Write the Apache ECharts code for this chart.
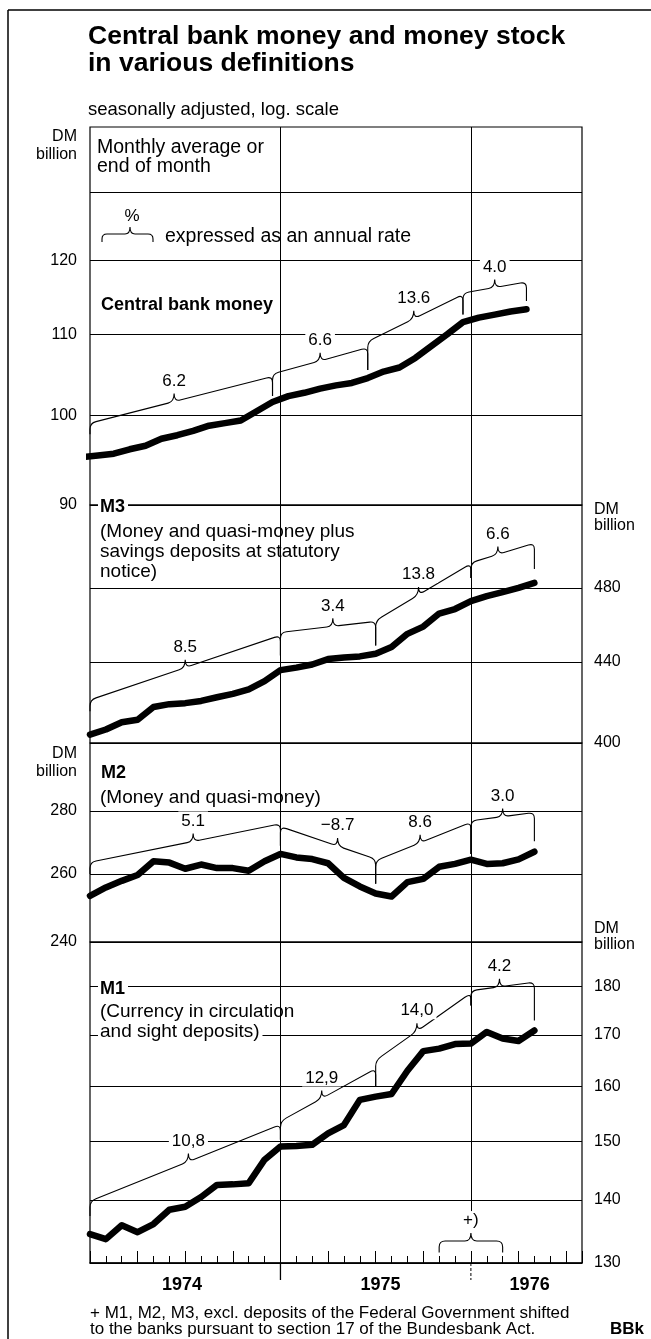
<!DOCTYPE html>
<html>
<head>
<meta charset="utf-8">
<title>Central bank money and money stock in various definitions</title>
<script src="https://cdn.jsdelivr.net/npm/echarts@6/dist/echarts.min.js"></script>
<style>
html,body{margin:0;padding:0;background:#fff;}
#chart{width:651px;height:1339px;}
</style>
</head>
<body>
<div id="chart"></div>
<script>
// ---------------- data ----------------
// month index: 0 = January 1974, 12 = January 1975, 24 = January 1976
const monthIdx = [0,1,2,3,4,5,6,7,8,9,10,11,12,13,14,15,16,17,18,19,20,21,22,23,24,25,26,27,28];
// central bank money = monthly averages, plotted mid-month
const cbmMonthIdx = [-0.5,0.5,1.5,2.5,3.5,4.5,5.5,6.5,7.5,8.5,9.5,10.5,11.5,12.5,13.5,14.5,15.5,16.5,17.5,18.5,19.5,20.5,21.5,22.5,23.5,24.5,25.5,26.5,27.5];
const cbmValues = [95.2,95.4,95.6,96.1,96.5,97.3,97.7,98.2,98.8,99.1,99.4,100.5,101.6,102.3,102.7,103.2,103.6,103.9,104.5,105.3,105.8,107.0,108.5,110.0,111.6,112.2,112.6,113.0,113.3];
const m3Values = [404.0,406.4,409.9,411.1,417.3,418.7,419.2,420.3,422.1,423.8,426.1,430.2,435.8,437.1,438.7,441.5,442.3,442.9,444.3,447.8,454.8,458.7,465.8,468.3,472.7,475.5,477.7,480.1,482.9];
const m2Values = [253.4,255.9,257.9,259.7,263.9,263.5,261.6,262.9,261.8,261.8,261.0,263.9,266.2,265.1,264.6,263.3,258.8,256.2,254.1,253.2,257.5,258.5,262.2,263.1,264.4,263.1,263.3,264.5,266.9];
const m1Values = [134.5,133.7,135.9,134.8,136.1,138.4,138.9,140.5,142.5,142.6,142.8,146.8,149.1,149.2,149.4,151.4,152.9,157.5,158.1,158.6,163.0,166.8,167.3,168.2,168.3,170.6,169.3,168.8,170.9];

// axis tick values (DM billion)
const cbmTicks = [90,100,110,120];
const cbmUnlabelledLines = [130];
const m3Ticks = [400,440,480];
const m2Ticks = [240,260,280];
const m1Ticks = [130,140,150,160,170,180];
const yearLabels = ['1974','1975','1976'];
const yearLabelPos = [5.8, 18.3, 27.7];
const yearBoundaries = [12, 24];

// growth braces: [start month, end month, value at start, value at end,
//                 hook bottom at start, hook bottom at end, month of the brace tip]
const cbmBraces = [[0,11.5,99.1,104.7,97.8,102.3,5.3],[11.5,17.5,105.0,108.3,102.3,105.5,14.5],[17.5,23.5,109.1,115.3,105.5,112.6,20.4],[23.5,27.5,115.5,117.0,112.6,114.4,25.5]];
const cbmRates = ['6.2','6.6','13.6','4.0'];
const m3Braces = [[0,12,420.8,454.0,415.2,443.4,6.0],[12,18,455.6,461.5,443.4,448.6,15.3],[18,24,462.0,494.0,448.6,485.7,20.7],[24,28,494.5,506.0,485.7,490.8,25.7]];
const m3Rates = ['8.5','3.4','13.8','6.6'];
const m2Braces = [[0,12,263.6,275.8,260.0,268.8,6.5],[12,18,274.9,264.6,268.8,257.0,15.6],[18,24,264.1,276.3,257.0,266.2,20.8],[24,28,276.8,279.5,266.2,270.2,26.0]];
const m2Rates = ['5.1','\u22128.7','8.6','3.0'];
const m1Braces = [[0,12,139.8,153.0,137.4,150.3,6.2],[12,18,153.6,163.4,150.3,159.9,14.6],[18,24,165.0,178.6,159.9,176.0,20.6],[24,28,179.1,180.9,176.0,172.9,25.8]];
const m1Rates = ['10,8','12,9','14,0','4.2'];
// footnote marker brace under January 1976
const noteBrace = [[22,26,133.4,133.4,131.6,131.6,24]];
const noteLabels = ['+)'];
const noteLineFrom = 137.6; // value where the Jan-1976 line stops above "+)"

// ---------------- layout ----------------
const FONT = '"Liberation Sans", Arial, Helvetica, sans-serif';
const PX_PER_LN = 850;           // common log scale for all four panels
const LEFT = 90, RIGHT_EDGE = 582;
const panels = [
  {top:127, bottom:505, min:90},
  {top:505, bottom:743, min:400},
  {top:743, bottom:942, min:240},
  {top:942, bottom:1263, min:130}
];
panels.forEach(p => { p.max = p.min * Math.exp((p.bottom - p.top) / PX_PER_LN); });
const X_MAX = 31;

const chart = echarts.init(document.getElementById('chart'), null, {renderer:'canvas'});

function pairs(xs, ys){ return xs.map((x,i)=>[x, ys[i]]); }

function bracePathData(x0,y0,x1,y1,yb0,yb1,xm,r,B){
  const L = x => y0 + (y1-y0)*(x-x0)/(x1-x0);
  const ym = L(xm);
  return `M${x0} ${yb0} L${x0} ${y0+r} Q${x0} ${y0} ${x0+r} ${L(x0+r)} L${xm-r} ${L(xm-r)} Q${xm} ${ym} ${xm} ${ym-B} Q${xm} ${ym} ${xm+r} ${L(xm+r)} L${x1-r} ${L(x1-r)} Q${x1} ${y1} ${x1} ${y1+r} L${x1} ${yb1}`;
}

function braceRenderer(labels){
  return function(params, api){
    const x0 = api.value(0), x1 = api.value(1);
    const p0 = api.coord([x0, api.value(2)]);
    const p1 = api.coord([x1, api.value(3)]);
    const b0 = api.coord([x0, api.value(4)]);
    const b1 = api.coord([x1, api.value(5)]);
    const xm = api.coord([api.value(6), api.value(2)])[0];
    const r = 6, B = 8;
    const d = bracePathData(p0[0],p0[1],p1[0],p1[1],b0[1],b1[1],xm,r,B);
    const ym = p0[1] + (p1[1]-p0[1])*(xm-p0[0])/(p1[0]-p0[0]);
    return {type:'group', children:[
      {type:'path', shape:{pathData:d}, style:{stroke:'#000', fill:'none', lineWidth:1.1}},
      {type:'text', x:xm, y:ym-B-4, style:{text:labels[params.dataIndex], font:'17px '+FONT, fill:'#000',
        align:'center', verticalAlign:'bottom', textAlign:'center', textVerticalAlign:'bottom',
        backgroundColor:'#fff', padding:[1,3,0,3]}}
    ]};
  };
}

function gridLines(ticks, extra){
  const items = ticks.map(v => ({yAxis:v, name:String(v)}));
  (extra||[]).forEach(v => items.push({yAxis:v, name:'', label:{show:false}}));
  return items;
}

function markLineOpt(items, side){
  return {
    silent:true, symbol:'none', animation:false,
    lineStyle:{color:'#000', width:1, type:'solid'},
    label:{show:true, position: side==='left'?'start':'end', distance: side==='left'?13:12, formatter:'{b}',
      color:'#000', fontFamily:FONT, fontSize:16},
    emphasis:{disabled:true},
    data: items
  };
}

const vertLines = yearBoundaries.map(x => ({xAxis:x, name:'', label:{show:false}}));

const grids = panels.map(p => ({left:LEFT, width:RIGHT_EDGE-LEFT, top:p.top, height:p.bottom-p.top,
  show:true, borderColor:'#000', borderWidth:1.2, backgroundColor:'transparent'}));

const hiddenX = i => ({gridIndex:i, type:'value', min:0, max:X_MAX, show:false});
const xAxes = [hiddenX(0), hiddenX(1), hiddenX(2),
  {gridIndex:3, type:'value', min:0, max:X_MAX, interval:1, position:'bottom',
    axisLine:{show:true, lineStyle:{color:'#000', width:1.5}},
    axisTick:{show:true, inside:true, length:7, lineStyle:{color:'#000', width:1}},
    axisLabel:{show:false}, splitLine:{show:false}},
  {gridIndex:3, type:'value', min:0, max:X_MAX, interval:3, position:'bottom',
    axisLine:{show:false},
    axisTick:{show:true, inside:true, length:12, lineStyle:{color:'#000', width:1}},
    axisLabel:{show:false}, splitLine:{show:false}},
  {gridIndex:3, type:'value', min:0, max:X_MAX, position:'bottom',
    axisLine:{show:false}, axisTick:{show:false}, splitLine:{show:false},
    axisLabel:{show:true, customValues:yearLabelPos, margin:13, color:'#000',
      fontFamily:FONT, fontSize:18, fontWeight:'bold',
      formatter: v => { let best=0; yearLabelPos.forEach((p,i)=>{ if(Math.abs(p-v)<Math.abs(yearLabelPos[best]-v)) best=i; }); return yearLabels[best]; }}}
];
const yAxes = panels.map((p,i) => ({gridIndex:i, type:'log', logBase:10, min:p.min, max:p.max,
  axisLine:{show:false}, axisTick:{show:false}, axisLabel:{show:false}, splitLine:{show:false}}));

const lineStyleMain = {color:'#000', width:6.5, cap:'round', join:'round'};
function mainSeries(name, i, data, ml){
  return {name, type:'line', xAxisIndex:i, yAxisIndex:i, data, symbol:'none', z:10,
    lineStyle:lineStyleMain, clip:true, silent:true, markLine:ml, animation:false};
}
function braceSeries(i, data, labels){
  return {type:'custom', xAxisIndex:i, yAxisIndex:i, data, renderItem:braceRenderer(labels),
    z:20, silent:true, clip:false, animation:false, encode:{x:[0,1], y:[2,3]}};
}

const m1VertLines = [
  {xAxis:12, name:'', label:{show:false}},
  [{coord:[24, noteLineFrom], label:{show:false}}, {coord:[24, panels[3].max]}]
];

const series = [
  mainSeries('Central bank money', 0, pairs(cbmMonthIdx, cbmValues),
    markLineOpt(gridLines(cbmTicks,cbmUnlabelledLines).concat(vertLines),'left')),
  mainSeries('M3', 1, pairs(monthIdx, m3Values),
    markLineOpt(gridLines(m3Ticks).concat(vertLines),'right')),
  mainSeries('M2', 2, pairs(monthIdx, m2Values),
    markLineOpt(gridLines(m2Ticks).concat(vertLines),'left')),
  mainSeries('M1', 3, pairs(monthIdx, m1Values),
    markLineOpt(gridLines(m1Ticks).concat(m1VertLines),'right')),
  braceSeries(0, cbmBraces, cbmRates),
  braceSeries(1, m3Braces, m3Rates),
  braceSeries(2, m2Braces, m2Rates),
  braceSeries(3, m1Braces, m1Rates),
  braceSeries(3, noteBrace, noteLabels),
  // year separators continuing below the time axis
  {type:'custom', xAxisIndex:3, yAxisIndex:3, data: yearBoundaries.map(x => [x, panels[3].min]),
    silent:true, clip:false, z:15, animation:false, encode:{x:0, y:1},
    renderItem:(params, api) => {
      const p = api.coord([api.value(0), api.value(1)]);
      const dashed = params.dataIndex === 1;
      return {type:'line', shape:{x1:p[0], y1:p[1], x2:p[0], y2:p[1]+17},
        style:{stroke:'#000', lineWidth:dashed?1:1.3, lineDash:dashed?[3,2]:null}};
    }},
  // legend key: brace = "% expressed as an annual rate"
  {type:'custom', coordinateSystem:'none', data:[[0]], silent:true, z:20, animation:false,
    renderItem:() => ({type:'group', children:[
      {type:'path', shape:{pathData:bracePathData(102,234,153,234,242,242,130,5,7)},
        style:{stroke:'#000', fill:'none', lineWidth:1.1}},
      {type:'text', x:132, y:225, style:{text:'%', font:'17px '+FONT, fill:'#000',
        align:'center', verticalAlign:'bottom', textAlign:'center', textVerticalAlign:'bottom'}}
    ]})}
];

function txt(text, x, y, size, o){
  o = o || {};
  const st = {text, font:(o.bold?'bold ':'')+size+'px '+FONT, fill:'#000',
    align:o.align||'left', verticalAlign:'middle', textAlign:o.align||'left', textVerticalAlign:'middle'};
  if (o.bg) { st.backgroundColor = '#fff'; st.padding = [0,3,0,2]; }
  return {type:'text', x, y, z:100, silent:true, style:st};
}

const graphic = [
  {type:'line', shape:{x1:8, y1:10, x2:651, y2:10}, style:{stroke:'#000', lineWidth:1.5}, silent:true},
  {type:'line', shape:{x1:8, y1:10, x2:8, y2:1339}, style:{stroke:'#000', lineWidth:1.5}, silent:true},
  txt('Central bank money and money stock', 88, 37, 26.5, {bold:true}),
  txt('in various definitions', 88, 64, 26.5, {bold:true}),
  txt('seasonally adjusted, log. scale', 88, 110, 18.5),
  txt('DM', 77, 137, 16, {align:'right'}),
  txt('billion', 77, 155, 16, {align:'right'}),
  txt('Monthly average or', 97, 148, 19.5),
  txt('end of month', 97, 167, 19.5),
  txt('expressed as an annual rate', 165, 237, 19.5),
  txt('Central bank money', 101, 305, 18, {bold:true}),
  txt('M3', 98, 507, 18, {bold:true, bg:true}),
  txt('(Money and quasi-money plus', 100, 532, 19),
  txt('savings deposits at statutory', 100, 552, 19),
  txt('notice)', 100, 572, 19),
  txt('DM', 594, 510, 16),
  txt('billion', 594, 526, 16),
  txt('DM', 77, 754, 16, {align:'right'}),
  txt('billion', 77, 772, 16, {align:'right'}),
  txt('M2', 101, 773, 18, {bold:true}),
  txt('(Money and quasi-money)', 100, 798, 19),
  txt('DM', 594, 929, 16),
  txt('billion', 594, 945, 16),
  txt('M1', 98, 989, 18, {bold:true, bg:true}),
  txt('(Currency in circulation', 100, 1012, 19),
  txt('and sight deposits)', 98, 1032, 19, {bg:true}),
  txt('+ M1, M2, M3, excl. deposits of the Federal Government shifted', 90, 1313, 17),
  txt('to the banks pursuant to section 17 of the Bundesbank Act.', 90, 1329, 17),
  txt('BBk', 610, 1329, 17, {bold:true})
];

chart.setOption({
  animation:false,
  backgroundColor:'#fff',
  textStyle:{fontFamily:FONT},
  grid:grids,
  xAxis:xAxes,
  yAxis:yAxes,
  series,
  graphic
});
</script>
</body>
</html>
